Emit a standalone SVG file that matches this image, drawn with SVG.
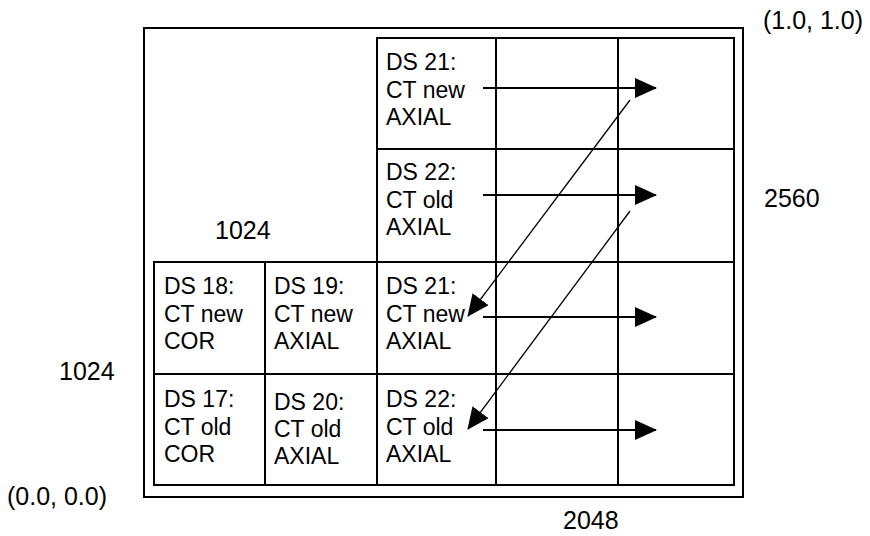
<svg xmlns="http://www.w3.org/2000/svg" width="870" height="536" viewBox="0 0 870 536">
<defs>
<style>
text{font-family:"Liberation Sans",Arial,sans-serif;font-size:23px;fill:#000}
.lbl{font-size:25px}
.cell{fill:#fff;stroke:#000;stroke-width:2}
.frame{fill:#fff;stroke:#000;stroke-width:2}
.h{stroke:#000;stroke-width:2;fill:none;marker-end:url(#ah)}
.d{stroke:#000;stroke-width:1.3;fill:none;marker-end:url(#ah)}
</style>
<marker id="ah" markerUnits="userSpaceOnUse" markerWidth="22" markerHeight="20" viewBox="0 0 22 20" refX="21" refY="10" orient="auto">
<path d="M0,0 L22,10 L0,20 Z" fill="#000"/>
</marker>
</defs>
<rect width="870" height="536" fill="#fff"/>
<g id="frame"><rect class="frame" x="144" y="28" width="599" height="469"/></g>
<g id="grid">
<rect class="cell" x="377" y="38" width="119" height="111"/>
<rect class="cell" x="496" y="38" width="122" height="111"/>
<rect class="cell" x="618" y="38" width="116" height="111"/>
<rect class="cell" x="377" y="149" width="119" height="113"/>
<rect class="cell" x="496" y="149" width="122" height="113"/>
<rect class="cell" x="618" y="149" width="116" height="113"/>
<rect class="cell" x="154" y="262" width="111" height="112"/>
<rect class="cell" x="265" y="262" width="112" height="112"/>
<rect class="cell" x="377" y="262" width="119" height="112"/>
<rect class="cell" x="496" y="262" width="122" height="112"/>
<rect class="cell" x="618" y="262" width="116" height="112"/>
<rect class="cell" x="154" y="374" width="111" height="111"/>
<rect class="cell" x="265" y="374" width="112" height="111"/>
<rect class="cell" x="377" y="374" width="119" height="111"/>
<rect class="cell" x="496" y="374" width="122" height="111"/>
<rect class="cell" x="618" y="374" width="116" height="111"/>
</g>
<g id="ds21-top"><text x="386" y="70">DS 21:</text><text x="386" y="98">CT new</text><text x="386" y="125">AXIAL</text></g>
<g id="ds22-top"><text x="386" y="180">DS 22:</text><text x="386" y="208">CT old</text><text x="386" y="235">AXIAL</text></g>
<g id="ds18"><text x="164" y="294">DS 18:</text><text x="164" y="322">CT new</text><text x="164" y="349">COR</text></g>
<g id="ds19"><text x="274" y="294">DS 19:</text><text x="274" y="322">CT new</text><text x="274" y="349">AXIAL</text></g>
<g id="ds21"><text x="386" y="294">DS 21:</text><text x="386" y="322">CT new</text><text x="386" y="349">AXIAL</text></g>
<g id="ds17"><text x="164" y="407">DS 17:</text><text x="164" y="435">CT old</text><text x="164" y="462">COR</text></g>
<g id="ds20"><text x="274" y="410">DS 20:</text><text x="274" y="437">CT old</text><text x="274" y="464">AXIAL</text></g>
<g id="ds22"><text x="386" y="407">DS 22:</text><text x="386" y="435">CT old</text><text x="386" y="462">AXIAL</text></g>
<g id="labels">
<text class="lbl" x="763" y="29">(1.0, 1.0)</text>
<text class="lbl" x="764" y="207">2560</text>
<text class="lbl" x="215" y="239">1024</text>
<text class="lbl" x="59" y="380">1024</text>
<text class="lbl" x="7" y="505">(0.0, 0.0)</text>
<text class="lbl" x="563" y="529">2048</text>
</g>
<g id="connectors">
<line class="h" x1="483" y1="88" x2="656" y2="88"/>
<line class="h" x1="483" y1="195" x2="656" y2="195"/>
<line class="h" x1="483" y1="317" x2="656" y2="317"/>
<line class="h" x1="483" y1="430" x2="656" y2="430"/>
<line class="d" x1="630" y1="100" x2="468" y2="316"/>
<line class="d" x1="630" y1="211" x2="468" y2="429"/>
</g>
</svg>
